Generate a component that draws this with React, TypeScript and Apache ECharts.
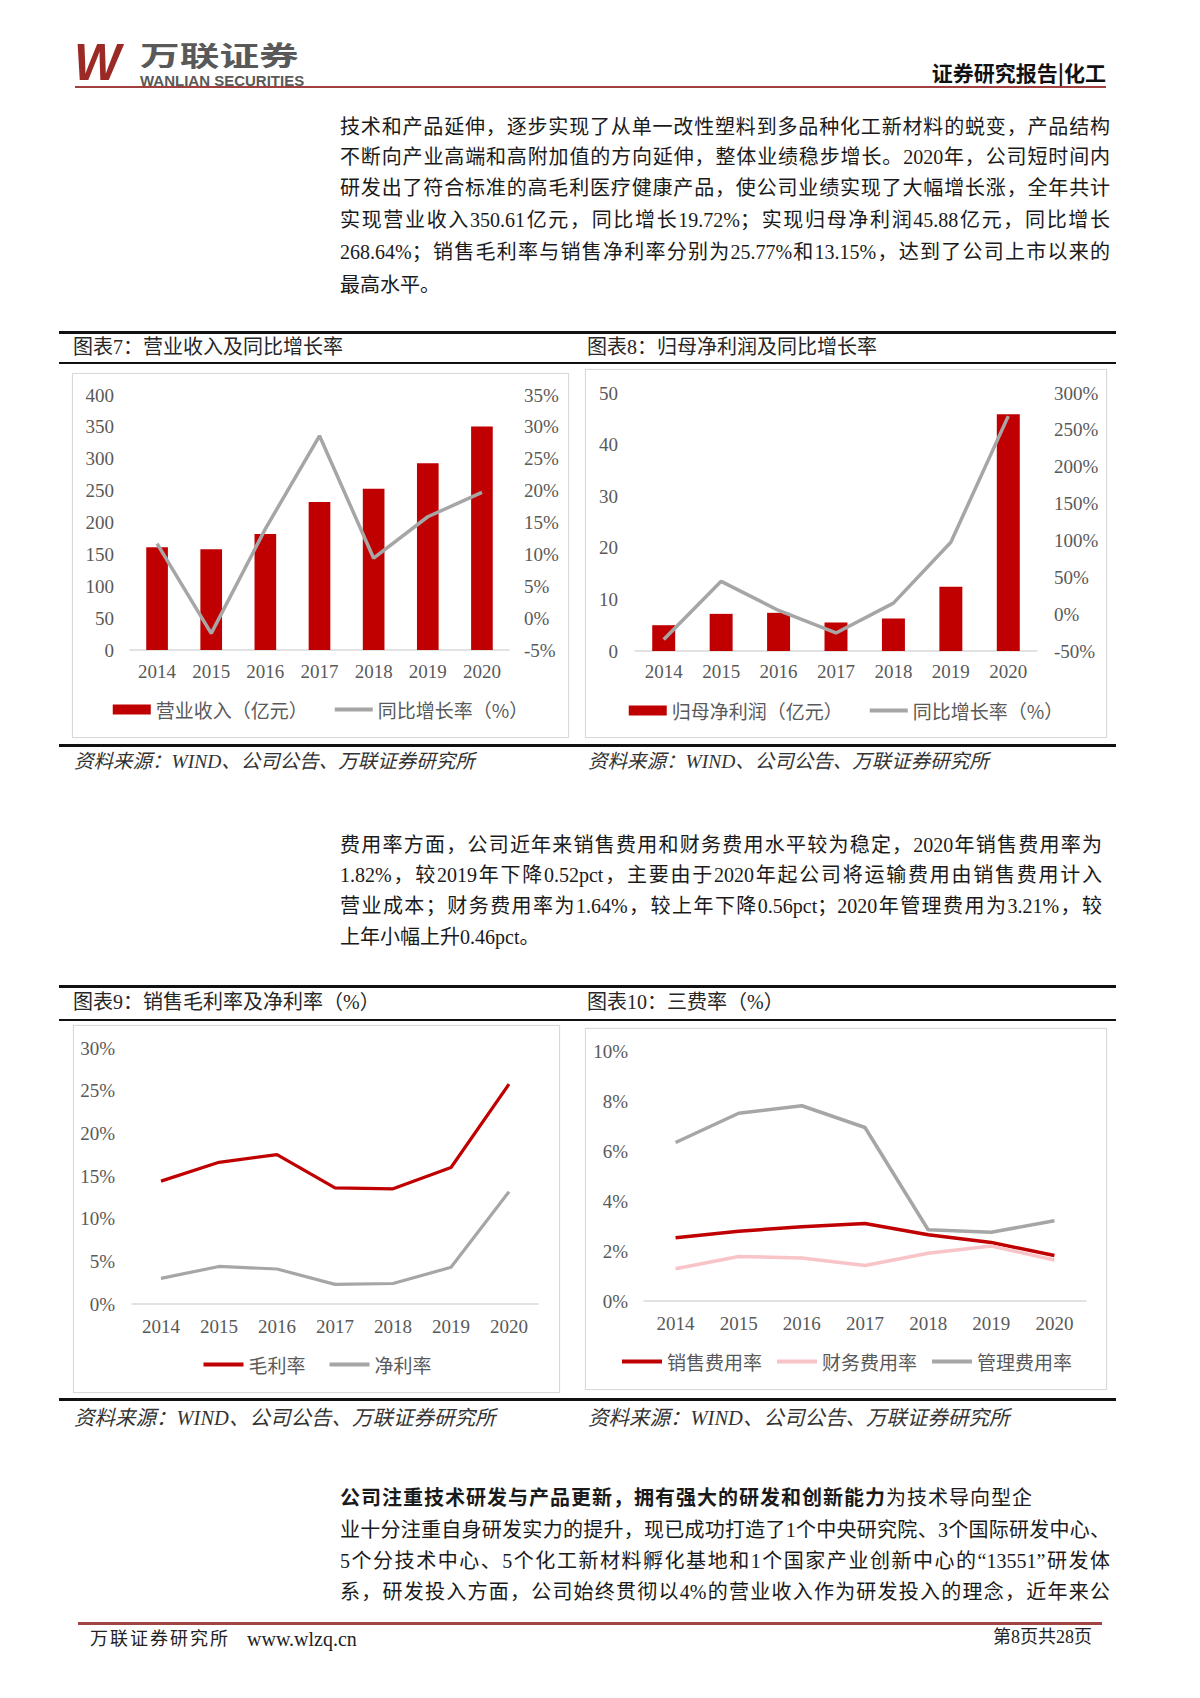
import React, { useEffect, useRef } from 'react';
import * as echarts from 'echarts';

// ---------- data ----------
const years = ['2014', '2015', '2016', '2017', '2018', '2019', '2020'];
const revenue = [161, 158, 182, 232, 253, 293, 350.61];
const revenueGrowth = [11.7, -2.4, 14.0, 28.6, 9.4, 15.9, 19.72];
const netProfit = [5.0, 7.2, 7.4, 5.5, 6.3, 12.45, 45.88];
const netProfitGrowth = [-34.5, 44.5, 5.0, -25.5, 15.0, 97.5, 268.64];
const grossMargin = [14.4, 16.6, 17.5, 13.6, 13.5, 16.0, 25.77];
const netMargin = [3.0, 4.4, 4.1, 2.3, 2.4, 4.3, 13.15];
const salesExpense = [2.53, 2.79, 2.97, 3.1, 2.65, 2.34, 1.82];
const financeExpense = [1.29, 1.78, 1.72, 1.42, 1.91, 2.2, 1.64];
const adminExpense = [6.34, 7.51, 7.81, 6.94, 2.85, 2.75, 3.21];

const revTicks = { min: 0, max: 400, interval: 50 };
const revGrowthTicks = { min: -5, max: 35, interval: 5 };
const npTicks = { min: 0, max: 50, interval: 10 };
const npGrowthTicks = { min: -50, max: 300, interval: 50 };
const marginTicks = { min: 0, max: 30, interval: 5 };
const expenseTicks = { min: 0, max: 10, interval: 2 };

const para1 = [
  '技术和产品延伸，逐步实现了从单一改性塑料到多品种化工新材料的蜕变，产品结构',
  '不断向产业高端和高附加值的方向延伸，整体业绩稳步增长。2020年，公司短时间内',
  '研发出了符合标准的高毛利医疗健康产品，使公司业绩实现了大幅增长涨，全年共计',
  '实现营业收入350.61亿元，同比增长19.72%；实现归母净利润45.88亿元，同比增长',
  '268.64%；销售毛利率与销售净利率分别为25.77%和13.15%，达到了公司上市以来的',
  '最高水平。',
];
const para1Y = [127, 157, 188, 220, 252, 285];
const para2 = [
  '费用率方面，公司近年来销售费用和财务费用水平较为稳定，2020年销售费用率为',
  '1.82%，较2019年下降0.52pct，主要由于2020年起公司将运输费用由销售费用计入',
  '营业成本；财务费用率为1.64%，较上年下降0.56pct；2020年管理费用为3.21%，较',
  '上年小幅上升0.46pct。',
];
const para2Y = [845, 875, 906, 937];
const para3Bold = '公司注重技术研发与产品更新，拥有强大的研发和创新能力';
const para3Rest = '为技术导向型企';
const para3 = [
  '业十分注重自身研发实力的提升，现已成功打造了1个中央研究院、3个国际研发中心、',
  '5个分技术中心、5个化工新材料孵化基地和1个国家产业创新中心的“13551”研发体',
  '系，研发投入方面，公司始终贯彻以4%的营业收入作为研发投入的理念，近年来公',
];
const para3Y = [1498, 1530, 1561, 1592];

const SOURCE = '资料来源：WIND、公司公告、万联证券研究所';

// ---------- styles ----------
const SERIF = '"Liberation Serif", "Noto Sans CJK SC", serif';
const CJK = '"Noto Sans CJK SC", "Liberation Serif", sans-serif';
const AXIS = '#595959';
const RED = '#c00000';
const GRAY = '#a6a6a6';
const PINK = '#f8c4c8';

function xAxis(margin: number) {
  return {
    type: 'category',
    data: years,
    boundaryGap: true,
    axisLine: { show: true, onZero: false, lineStyle: { color: '#d9d9d9', width: 1.5 } },
    axisTick: { show: false },
    axisLabel: { color: AXIS, fontSize: 19, fontFamily: SERIF, margin },
  };
}

function yAxis(t: { min: number; max: number; interval: number }, position: string, margin: number, pct: boolean) {
  return {
    type: 'value',
    position,
    min: t.min,
    max: t.max,
    interval: t.interval,
    axisLine: { show: false },
    axisTick: { show: false },
    splitLine: { show: false },
    axisLabel: {
      color: AXIS,
      fontSize: 19,
      fontFamily: SERIF,
      margin,
      formatter: pct ? '{value}%' : '{value}',
    },
  };
}

function legend(top: number, gap: number, itemWidth: number, items: any[]) {
  return {
    left: 'center',
    top,
    itemWidth,
    itemHeight: 10,
    itemGap: gap,
    textStyle: { fontSize: 19, color: AXIS, fontFamily: CJK },
    data: items,
  };
}

// legend entry for a line series: plain thick line, no centre symbol
function lineItem(name: string) {
  return { name, itemStyle: { opacity: 0 }, lineStyle: { width: 4 } };
}

function lineSeries(name: string, data: number[], color: string, width: number, yAxisIndex = 0) {
  return {
    type: 'line',
    name,
    data,
    yAxisIndex,
    symbol: 'none',
    lineStyle: { color, width },
    itemStyle: { color },
  };
}

const option7 = {
  animation: false,
  grid: { left: 57, right: 59, top: 21, bottom: 87 },
  legend: legend(321, 25, 38, [{ name: '营业收入（亿元）', icon: 'rect' }, lineItem('同比增长率（%）')]),
  xAxis: xAxis(11.5),
  yAxis: [yAxis(revTicks, 'left', 16, false), yAxis(revGrowthTicks, 'right', 15, true)],
  series: [
    { type: 'bar', name: '营业收入（亿元）', data: revenue, barWidth: '40%', itemStyle: { color: RED } },
    lineSeries('同比增长率（%）', revenueGrowth, GRAY, 3.5, 1),
  ],
};

const option8 = {
  animation: false,
  grid: { left: 49, right: 69, top: 23, bottom: 86 },
  legend: legend(326, 25, 38, [{ name: '归母净利润（亿元）', icon: 'rect' }, lineItem('同比增长率（%）')]),
  xAxis: xAxis(11),
  yAxis: [yAxis(npTicks, 'left', 17, false), yAxis(npGrowthTicks, 'right', 17, true)],
  series: [
    { type: 'bar', name: '归母净利润（亿元）', data: netProfit, barWidth: '40%', itemStyle: { color: RED } },
    lineSeries('同比增长率（%）', netProfitGrowth, GRAY, 3.5, 1),
  ],
};

const option9 = {
  animation: false,
  grid: { left: 58, right: 21, top: 22, bottom: 88 },
  legend: legend(324, 22, 40, [lineItem('毛利率'), lineItem('净利率')]),
  xAxis: xAxis(12.5),
  yAxis: [yAxis(marginTicks, 'left', 17, true)],
  series: [lineSeries('毛利率', grossMargin, RED, 3.2), lineSeries('净利率', netMargin, GRAY, 3.2)],
};

const option10 = {
  animation: false,
  grid: { left: 58, right: 20, top: 22, bottom: 88 },
  legend: legend(318, 13, 40, [lineItem('销售费用率'), lineItem('财务费用率'), lineItem('管理费用率')]),
  xAxis: xAxis(12.5),
  yAxis: [yAxis(expenseTicks, 'left', 16, true)],
  series: [
    lineSeries('销售费用率', salesExpense, RED, 3.5),
    lineSeries('财务费用率', financeExpense, PINK, 3.5),
    lineSeries('管理费用率', adminExpense, GRAY, 3.5),
  ],
};

// ---------- components ----------
function ChartBox(props: { option: any; left: number; top: number; width: number; height: number }) {
  const { option, left, top, width, height } = props;
  const ref = useRef<HTMLDivElement>(null);
  useEffect(() => {
    if (!ref.current) return;
    const chart = echarts.init(ref.current, undefined, { renderer: 'svg', width: width - 2, height: height - 2 });
    chart.setOption(option);
    return () => chart.dispose();
  }, []);
  return (
    <div
      style={{
        position: 'absolute',
        left,
        top,
        width,
        height,
        border: '1px solid #d9d9d9',
        boxSizing: 'border-box',
        background: '#fff',
        boxShadow: '0 0 1px #e6e6e6',
      }}
    >
      <div ref={ref} style={{ width: width - 2, height: height - 2 }} />
    </div>
  );
}

function Rule(props: { x1: number; x2: number; y: number; h: number; color: string }) {
  const { x1, x2, y, h, color } = props;
  return <div style={{ position: 'absolute', left: x1, top: y - h / 2, width: x2 - x1, height: h, background: color }} />;
}

function T(props: { x: number; y: number; size: number; children: any; style?: any; right?: boolean; lh?: number }) {
  const { x, y, size, children, style, right } = props;
  const lh = props.lh ?? 1.5;
  const pos: any = right ? { right: 1200 - x } : { left: x };
  return (
    <div
      style={{
        position: 'absolute',
        ...pos,
        top: y - (size * lh) / 2,
        fontSize: size,
        lineHeight: size * lh + 'px',
        height: size * lh,
        whiteSpace: 'nowrap',
        ...style,
      }}
    >
      {children}
    </div>
  );
}

function ParaLine(props: { text: any; y: number; width: number; justify: boolean; style?: any }) {
  const { text, y, width, justify, style } = props;
  return (
    <div
      style={{
        position: 'absolute',
        left: 340,
        top: y - 15,
        width,
        height: 30,
        lineHeight: '30px',
        fontSize: 20,
        color: '#1a1a1a',
        textAlign: justify ? 'justify' : 'left',
        textAlignLast: justify ? 'justify' : 'left',
        ...style,
      }}
    >
      {text}
    </div>
  );
}

export default function App() {
  const titleStyle = { color: '#262626', fontFamily: SERIF };
  const srcStyle = { color: '#333', fontStyle: 'italic', fontFamily: SERIF };
  return (
    <div
      style={{
        position: 'absolute',
        left: 0,
        top: 0,
        width: 1200,
        height: 1698,
        background: '#fff',
        overflow: 'hidden',
        fontFamily: SERIF,
      }}
    >
      {/* header */}
      <T x={74} y={62} size={52} lh={1} style={{ color: '#9b2a27', fontWeight: 700, fontStyle: 'italic', fontFamily: '"Liberation Sans", sans-serif', letterSpacing: -3, transform: 'scaleX(0.95)', transformOrigin: 'left' }}>
        W
      </T>
      <T x={140} y={54} size={27} lh={1} style={{ color: '#595959', fontWeight: 700, fontFamily: CJK, transform: 'scaleX(1.47)', transformOrigin: 'left' }}>
        万联证券
      </T>
      <T x={140} y={80.5} size={15} lh={1} style={{ color: '#595959', fontWeight: 700, fontFamily: '"Liberation Sans", sans-serif' }}>
        WANLIAN SECURITIES
      </T>
      <T x={1106} y={73} size={21} right style={{ color: '#111', fontWeight: 700, fontFamily: CJK }}>
        证券研究报告|化工
      </T>
      <Rule x1={75} x2={1106} y={87} h={1.8} color="#a0403f" />

      {/* paragraph 1 */}
      {para1.map((t, i) => (
        <ParaLine key={'p1' + i} text={t} y={para1Y[i]} width={770} justify={i < para1.length - 1} />
      ))}

      {/* chart 7 / 8 block */}
      <Rule x1={59} x2={1116} y={332} h={3} color="#111" />
      <Rule x1={59} x2={1116} y={363} h={2.5} color="#111" />
      <Rule x1={59} x2={1116} y={745} h={3} color="#111" />
      <T x={73} y={347} size={20} style={titleStyle}>图表7：营业收入及同比增长率</T>
      <T x={587} y={347} size={20} style={titleStyle}>图表8：归母净利润及同比增长率</T>
      <ChartBox option={option7} left={72} top={373} width={497} height={365} />
      <ChartBox option={option8} left={585} top={369} width={522} height={369} />
      <T x={74} y={762} size={19.5} style={srcStyle}>{SOURCE}</T>
      <T x={588} y={762} size={19.5} style={srcStyle}>{SOURCE}</T>

      {/* paragraph 2 */}
      {para2.map((t, i) => (
        <ParaLine key={'p2' + i} text={t} y={para2Y[i]} width={762} justify={i < para2.length - 1} />
      ))}

      {/* chart 9 / 10 block */}
      <Rule x1={59} x2={1116} y={986} h={3} color="#111" />
      <Rule x1={59} x2={1116} y={1020} h={2.5} color="#111" />
      <Rule x1={59} x2={1116} y={1399} h={3} color="#111" />
      <T x={73} y={1002} size={20} style={titleStyle}>图表9：销售毛利率及净利率（%）</T>
      <T x={587} y={1002} size={20} style={titleStyle}>图表10：三费率（%）</T>
      <ChartBox option={option9} left={73} top={1025} width={487} height={368} />
      <ChartBox option={option10} left={585} top={1028} width={522} height={362} />
      <T x={74} y={1418} size={20.5} style={srcStyle}>{SOURCE}</T>
      <T x={588} y={1418} size={20.5} style={srcStyle}>{SOURCE}</T>

      {/* paragraph 3 */}
      <ParaLine
        text={
          <>
            <b style={{ fontWeight: 700 }}>{para3Bold}</b>
            {para3Rest}
          </>
        }
        y={para3Y[0]}
        width={770}
        justify={false}
        style={{ letterSpacing: 1 }}
      />
      {para3.map((t, i) => (
        <ParaLine key={'p3' + i} text={t} y={para3Y[i + 1]} width={770} justify={true} />
      ))}

      {/* footer */}
      <Rule x1={78} x2={1102} y={1623} h={3} color="#a04444" />
      <T x={90} y={1639} size={18} style={{ color: '#222', letterSpacing: 2 }}>万联证券研究所</T>
      <T x={247} y={1639} size={20} style={{ color: '#222' }}>www.wlzq.cn</T>
      <T x={1092} y={1637} size={18} right style={{ color: '#222' }}>第8页共28页</T>
    </div>
  );
}
